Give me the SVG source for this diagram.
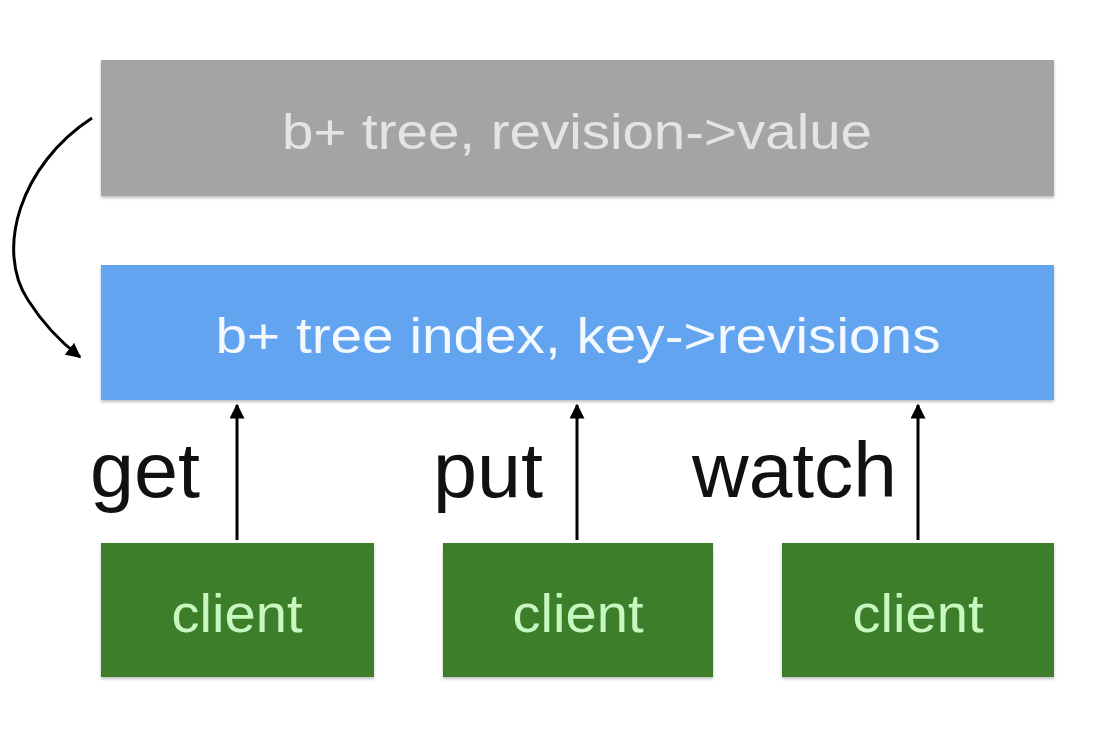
<svg xmlns="http://www.w3.org/2000/svg" width="1098" height="738" viewBox="0 0 1098 738">
<defs>
<marker id="ah" viewBox="0 0 10 10" refX="9" refY="5" markerWidth="5" markerHeight="5" orient="auto-start-reverse" markerUnits="strokeWidth">
<path d="M0,0 L10,5 L0,10 z" fill="#000"/>
</marker>
<filter id="sh" x="-5%" y="-5%" width="110%" height="115%">
<feDropShadow dx="0" dy="2" stdDeviation="1.5" flood-color="#000" flood-opacity="0.25"/>
</filter>
</defs>
<style>
text{font-family:"Liberation Sans",Arial,sans-serif;}
.box{filter:url(#sh);}
.lbl{font-size:78px;fill:#111;}
.ct{font-size:54px;fill:#c8f7c0;text-anchor:middle;}
.conn{stroke:#000;stroke-width:3;fill:none;marker-end:url(#ah);}
</style>
<rect width="1098" height="738" fill="#fff"/>
<g id="node-values">
<rect class="box" x="101" y="60" width="953" height="136" fill="#a4a4a4"/>
<text x="577" y="149" font-size="50" fill="#e4e4e4" text-anchor="middle" textLength="590" lengthAdjust="spacingAndGlyphs">b+ tree, revision-&gt;value</text>
</g>
<g id="node-index">
<rect class="box" x="101" y="265" width="953" height="135" fill="#62a4ef"/>
<text x="578" y="353" font-size="50" fill="#f4f8ff" text-anchor="middle" textLength="725" lengthAdjust="spacingAndGlyphs">b+ tree index, key-&gt;revisions</text>
</g>
<g id="node-client1">
<rect class="box" x="101" y="543" width="273" height="134" fill="#3d7e2b"/>
<text class="ct" x="237" y="632" textLength="131" lengthAdjust="spacingAndGlyphs">client</text>
</g>
<g id="node-client2">
<rect class="box" x="443" y="543" width="270" height="134" fill="#3d7e2b"/>
<text class="ct" x="578" y="632" textLength="131" lengthAdjust="spacingAndGlyphs">client</text>
</g>
<g id="node-client3">
<rect class="box" x="782" y="543" width="272" height="134" fill="#3d7e2b"/>
<text class="ct" x="918" y="632" textLength="131" lengthAdjust="spacingAndGlyphs">client</text>
</g>
<g id="connectors">
<path class="conn" d="M92,118 C20,165 -5,250 28,300 C45,327 62,343 80,357"/>
<line class="conn" x1="237" y1="540" x2="237" y2="405"/>
<line class="conn" x1="577" y1="540" x2="577" y2="405"/>
<line class="conn" x1="918" y1="540" x2="918" y2="405"/>
</g>
<g id="labels">
<text class="lbl" x="90" y="497" textLength="110" lengthAdjust="spacingAndGlyphs">get</text>
<text class="lbl" x="433" y="497" textLength="110" lengthAdjust="spacingAndGlyphs">put</text>
<text class="lbl" x="692" y="497" textLength="205" lengthAdjust="spacingAndGlyphs">watch</text>
</g>
</svg>
